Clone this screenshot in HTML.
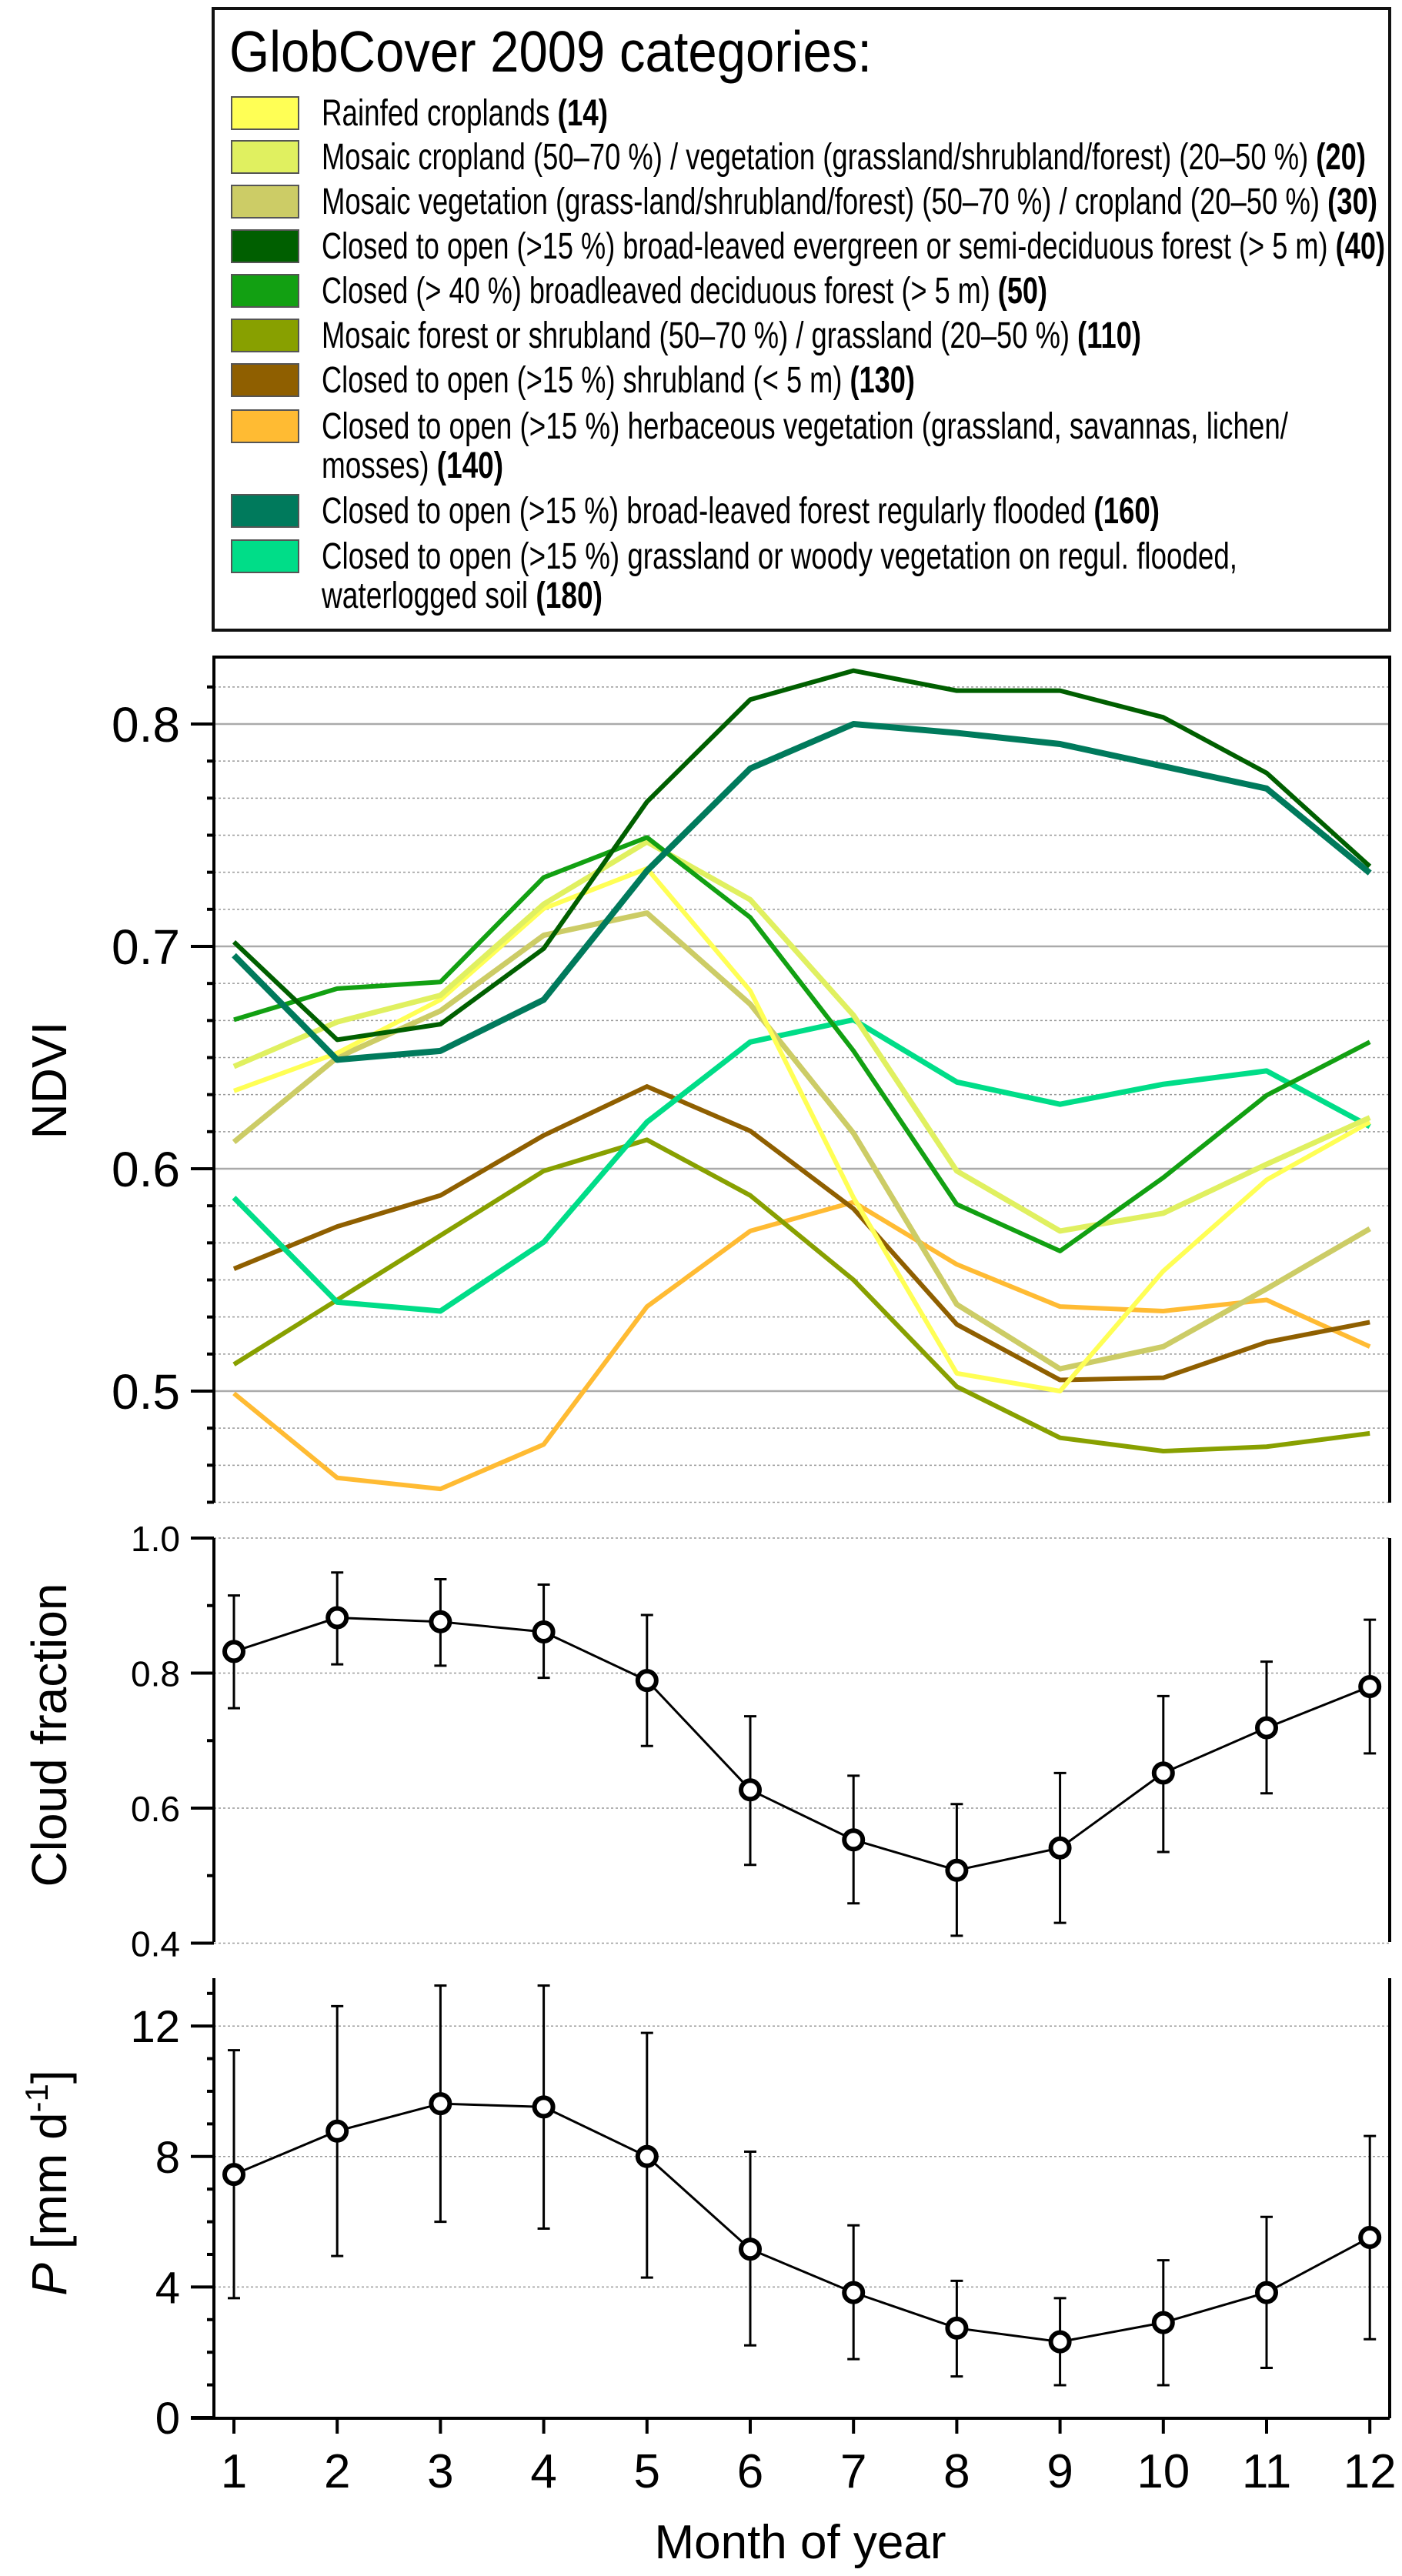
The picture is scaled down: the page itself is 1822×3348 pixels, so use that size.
<!DOCTYPE html>
<html><head><meta charset="utf-8"><style>
html,body{margin:0;padding:0;background:#fff}
svg{display:block;font-family:"Liberation Sans",Arial,sans-serif}
</style></head><body>
<svg id="fig" width="1822" height="3348" viewBox="0 0 1822 3348" xmlns="http://www.w3.org/2000/svg">
<g id="legend">
<rect x="277" y="11" width="1529" height="808" fill="#fff" stroke="#111" stroke-width="4"/>
<text x="298" y="93" font-size="75" textLength="835" lengthAdjust="spacingAndGlyphs">GlobCover 2009 categories:</text>
</g>
<g id="ndvi"></g>
<g id="cloud"></g>
<g id="precip"></g>
</svg>
<script>
const months = [1,2,3,4,5,6,7,8,9,10,11,12];
const s14  = [0.635,0.652,0.676,0.717,0.735,0.680,0.587,0.508,0.500,0.554,0.595,0.621];
const s20  = [0.646,0.666,0.678,0.719,0.747,0.721,0.669,0.599,0.572,0.580,0.602,0.623];
const s30  = [0.612,0.650,0.671,0.705,0.715,0.674,0.616,0.539,0.510,0.520,0.546,0.573];
const s40  = [0.702,0.658,0.665,0.699,0.765,0.811,0.824,0.815,0.815,0.803,0.778,0.736];
const s50  = [0.667,0.681,0.684,0.731,0.749,0.713,0.653,0.584,0.563,0.596,0.633,0.657];
const s110 = [0.512,0.541,0.570,0.599,0.613,0.588,0.550,0.502,0.479,0.473,0.475,0.481];
const s130 = [0.555,0.574,0.588,0.615,0.637,0.617,0.582,0.530,0.505,0.506,0.522,0.531];
const s140 = [0.499,0.461,0.456,0.476,0.538,0.572,0.585,0.557,0.538,0.536,0.541,0.520];
const s160 = [0.696,0.649,0.653,0.676,0.734,0.780,0.800,0.796,0.791,0.781,0.771,0.733];
const s180 = [0.587,0.540,0.536,0.567,0.621,0.657,0.667,0.639,0.629,0.638,0.644,0.619];
const cloudMean = [0.832,0.882,0.876,0.861,0.789,0.627,0.553,0.508,0.541,0.652,0.719,0.780];
const cloudHi   = [0.915,0.949,0.939,0.931,0.886,0.736,0.648,0.606,0.652,0.766,0.817,0.879];
const cloudLo   = [0.748,0.813,0.811,0.793,0.692,0.516,0.459,0.411,0.430,0.535,0.622,0.681];
const pMean = [7.45,8.78,9.62,9.52,8.0,5.16,3.83,2.74,2.32,2.91,3.83,5.52];
const pHi   = [11.26,12.61,13.24,13.24,11.79,8.15,5.89,4.19,3.66,4.82,6.15,8.63];
const pLo   = [3.66,4.95,6.0,5.79,4.29,2.21,1.79,1.26,0.99,0.99,1.52,2.4];
const ndviTicks = ["0.5","0.6","0.7","0.8"];
const cloudTicks = ["0.4","0.6","0.8","1.0"];
const pTicks = ["0","4","8","12"];

const NS="http://www.w3.org/2000/svg";
function mk(parent,tag,attrs,txt){const e=document.createElementNS(NS,tag);for(const k in attrs)e.setAttribute(k,attrs[k]);if(txt!==undefined)e.textContent=txt;parent.appendChild(e);return e;}
const X0=278,X1=1806;
const xm = m => 304 + (m-1)*134.2;
const yN = v => 1519 - (v-0.6)*2890;
const yC = v => 1999 + (1.0-v)*877.5;
const yP = v => 3142 - v*42.4;

// Legend entries
const leg = document.getElementById('legend');
const legendItems = [
 ["#ffff55",126,["Rainfed croplands ","(14)"],790],
 ["#e0f060",183,["Mosaic cropland (50–70 %) / vegetation (grassland/shrubland/forest) (20–50 %) ","(20)"],1775],
 ["#cccc66",241,["Mosaic vegetation (grass-land/shrubland/forest) (50–70 %) / cropland (20–50 %) ","(30)"],1790],
 ["#005f00",299,["Closed to open (>15 %) broad-leaved evergreen or semi-deciduous forest (> 5 m) ","(40)"],1800],
 ["#12a012",357,["Closed (> 40 %) broadleaved deciduous forest (> 5 m) ","(50)"],1361],
 ["#88a000",415,["Mosaic forest or shrubland (50–70 %) / grassland (20–50 %) ","(110)"],1483],
 ["#8f5f00",473,["Closed to open (>15 %) shrubland (< 5 m) ","(130)"],1189],
 ["#ffbb33",533,["Closed to open (>15 %) herbaceous vegetation (grassland, savannas, lichen/",""],1674,["mosses) ","(140)"],654],
 ["#007a5c",643,["Closed to open (>15 %) broad-leaved forest regularly flooded ","(160)"],1507],
 ["#00dd88",702,["Closed to open (>15 %) grassland or woody vegetation on regul. flooded,",""],1608,["waterlogged soil ","(180)"],783]
];
legendItems.forEach(it=>{
  const g=mk(leg,'g',{});
  
  
  const r=mk(g,'rect',{x:301,y:it[1],width:87,height:42,fill:it[0],stroke:'#555','stroke-width':2});
  
  
  const lines=[[it[2],it[3]]]; if(it[4]) lines.push([it[4],it[5]]);
  lines.forEach((ln,i)=>{
    const t=mk(g,'text',{x:418,y:it[1]+37+i*51,'font-size':48,textLength:ln[1]-418,lengthAdjust:'spacingAndGlyphs'});
    
    
    mk(t,'tspan',{},ln[0][0]);
    if(ln[0][1]) mk(t,'tspan',{'font-weight':'bold'},ln[0][1]);
  });
});

// NDVI panel
const nd=document.getElementById('ndvi');
for(let k=-3;k<=23;k++){
  const v=0.45+k/60; if(v<0.449||v>0.831)continue;
  const y=yN(v); const major=Math.abs((v*10)-Math.round(v*10))<1e-6;
  const l=mk(nd,'line',{x1:X0,x2:X1,y1:y,y2:y,stroke:major?'#aaa':'#999','stroke-width':major?2.5:1.5,'stroke-dasharray':major?'':'3,3'});
  
  
  mk(nd,'line',{x1:X0-(major?30:9),x2:X0,y1:y,y2:y,stroke:'#000','stroke-width':4});
}
ndviTicks.forEach(t=>{
  const tl=mk(nd,'text',{x:234,y:yN(parseFloat(t))+23,'font-size':64,'text-anchor':'end'},t);
  
  
});
mk(nd,'path',{d:`M${X0},1953 L${X0},854 L${X1},854 L${X1},1953`,fill:'none',stroke:'#000','stroke-width':4});
const series=[[s140,'#ffbb33',6],[s110,'#88a000',6],[s130,'#8f5f00',6],[s180,'#00dd88',7],[s30,'#cccc66',7],[s14,'#ffff55',6],[s20,'#e0f060',7],[s50,'#12a012',6],[s160,'#007a5c',8],[s40,'#005f00',6]];
const snames=['series-140','series-110','series-130','series-180','series-30','series-14','series-20','series-50','series-160','series-40'];
series.forEach((s,i)=>{
  const p=mk(nd,'polyline',{points:s[0].map((v,j)=>xm(months[j])+','+yN(v)).join(' '),fill:'none',stroke:s[1],'stroke-width':s[2],'stroke-linejoin':'round'});
  
  
});
const nt=mk(nd,'text',{x:0,y:0,'font-size':64,'text-anchor':'middle',transform:'translate(86,1404) rotate(-90)'},'NDVI');



// Cloud panel
const cl=document.getElementById('cloud');
[0.4,0.6,0.8,1.0].forEach(v=>{
  const l=mk(cl,'line',{x1:X0,x2:X1,y1:yC(v),y2:yC(v),stroke:'#999','stroke-width':1.5,'stroke-dasharray':'3,3'});
  
  
  mk(cl,'line',{x1:X0-30,x2:X0,y1:yC(v),y2:yC(v),stroke:'#000','stroke-width':4});
});
[0.5,0.7,0.9].forEach(v=>mk(cl,'line',{x1:X0-9,x2:X0,y1:yC(v),y2:yC(v),stroke:'#000','stroke-width':4}));
cloudTicks.forEach(t=>{
  const tl=mk(cl,'text',{x:234,y:yC(parseFloat(t))+17,'font-size':46,'text-anchor':'end'},t);
  
  
});
mk(cl,'line',{x1:X0,x2:X0,y1:1999,y2:2524,stroke:'#000','stroke-width':4});
mk(cl,'line',{x1:X1,x2:X1,y1:1999,y2:2524,stroke:'#000','stroke-width':4});
function errPanel(g,mean,hi,lo,yf,name){
  months.forEach((m,j)=>{
    const x=xm(m);
    const e=mk(g,'path',{d:`M${x},${yf(hi[j])}V${yf(lo[j])}M${x-8},${yf(hi[j])}H${x+8}M${x-8},${yf(lo[j])}H${x+8}`,stroke:'#000','stroke-width':3,fill:'none'});
    
    
  });
  const p=mk(g,'polyline',{points:mean.map((v,j)=>xm(months[j])+','+yf(v)).join(' '),fill:'none',stroke:'#000','stroke-width':3});
  
  
  mean.forEach((v,j)=>{
    const c=mk(g,'circle',{cx:xm(months[j]),cy:yf(v),r:12,fill:'#fff',stroke:'#000','stroke-width':6});
    
    
  });
}
errPanel(cl,cloudMean,cloudHi,cloudLo,yC,'cloud');
const ct=mk(cl,'text',{x:0,y:0,'font-size':64,'text-anchor':'middle',transform:'translate(86,2255) rotate(-90)'},'Cloud fraction');



// Precip panel
const pr=document.getElementById('precip');
[4,8,12].forEach(v=>{
  const l=mk(pr,'line',{x1:X0,x2:X1,y1:yP(v),y2:yP(v),stroke:'#999','stroke-width':1.5,'stroke-dasharray':'3,3'});
  
  
});
for(let v=0;v<=13;v++){mk(pr,'line',{x1:X0-(v%4===0?30:9),x2:X0,y1:yP(v),y2:yP(v),stroke:'#000','stroke-width':4});}
pTicks.forEach(t=>{
  const tl=mk(pr,'text',{x:234,y:yP(parseFloat(t))+21,'font-size':58,'text-anchor':'end'},t);
  
  
});
mk(pr,'path',{d:`M${X0},2571 V3143 M248,3143 H${X1} M${X1},3143 V2571`,stroke:'#000','stroke-width':4,fill:'none'});
months.forEach(m=>{
  mk(pr,'line',{x1:xm(m),x2:xm(m),y1:3143,y2:3163,stroke:'#000','stroke-width':4});
  const tl=mk(pr,'text',{x:xm(m),y:3233,'font-size':62,'text-anchor':'middle'},String(m));
  
  
});
errPanel(pr,pMean,pHi,pLo,yP,'p');
const pt=mk(pr,'text',{x:0,y:0,'font-size':64,'text-anchor':'middle',transform:'translate(86,2837) rotate(-90)'});


mk(pt,'tspan',{'font-style':'italic'},'P');
mk(pt,'tspan',{},' [mm d');
mk(pt,'tspan',{dy:-24,'font-size':42},'-1');
mk(pt,'tspan',{dy:24},']');
const xt=mk(pr,'text',{x:1040,y:3325,'font-size':62,'text-anchor':'middle'},'Month of year');


</script>
</body></html>
